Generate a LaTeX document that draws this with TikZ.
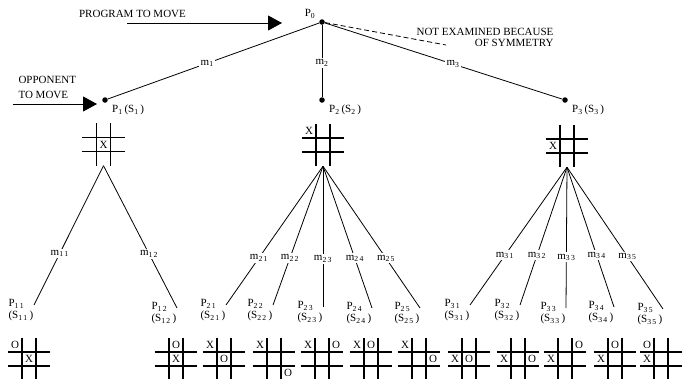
\documentclass[tikz,border=0pt]{standalone}
\usepackage{fontspec}
\setmainfont{Liberation Serif}
\usetikzlibrary{calc,arrows.meta}
\newcommand{\ix}[1]{\textsubscript{#1}}
\newcommand{\board}[2]{\node[board] (#1) at (#2) {};
  \draw[gridline] ([xshift=-7pt]#1.north) -- ([xshift=-7pt]#1.south) ([xshift=7pt]#1.north) -- ([xshift=7pt]#1.south)
    ([yshift=7pt]#1.west) -- ([yshift=7pt]#1.east) ([yshift=-7pt]#1.west) -- ([yshift=-7pt]#1.east);}
\newcommand{\pc}[4]{\node[piece] (#1r#2c#3) at ($(#1)+(#3*14-28,#2*14-28)$) {#4};}
\tikzset{
  pdot/.style={circle,fill=black,inner sep=0pt,minimum size=5.5pt},
  link/.style={line width=0.8pt},
  lab/.style={inner sep=1pt},
  mlab/.style={fill=white,inner sep=1.5pt},
  plab/.style={anchor=north east,align=left,inner sep=0.5pt,font=\fontsize{11}{12}\selectfont},
  board/.style={minimum size=42pt,inner sep=0pt},
  gridline/.style={line width=1.3pt},
  piece/.style={inner sep=0pt,font=\fontsize{11}{11}\selectfont},
  bigarr/.style={line width=0.8pt,-{Triangle[length=14pt,width=15pt]}}
}
\begin{document}
\begin{tikzpicture}[x=1pt,y=-1pt,font=\fontsize{11}{13}\selectfont]
  \useasboundingbox (0,0) rectangle (683,378);
  \node[pdot] (p0) at (322,22) {};
  \node[pdot] (p1) at (105,100) {};
  \node[pdot] (p2) at (322,100) {};
  \node[pdot] (p3) at (565,100) {};
  \node[lab] (p0l) at (310,14) {P\ix{0}};
  \node[lab,anchor=west] (p1l) at (111,110) {P\ix{1}\,(S\ix{1}\,)};
  \node[lab,anchor=west] (p2l) at (328,110) {P\ix{2}\,(S\ix{2}\,)};
  \node[lab,anchor=west] (p3l) at (571,110) {P\ix{3}\,(S\ix{3}\,)};
  \draw[link] (p0) -- node[mlab,pos=.53] (m1) {m\ix{1}} (p1);
  \draw[link] (p0) -- node[mlab,pos=.53] (m2) {m\ix{2}} (p2);
  \draw[link] (p0) -- node[mlab,pos=.54] (m3) {m\ix{3}} (p3);
  \coordinate (ne) at (446,45);
  \draw[link,dash pattern=on 5pt off 3pt] (p0) -- (ne);
  \node[align=right,anchor=north east,font=\fontsize{11}{11}\selectfont] (nex) at (557,25) {NOT EXAMINED BECAUSE\\OF SYMMETRY};
  \node (prog) at (132.5,13.5) {PROGRAM TO MOVE};
  \coordinate (pt0) at (127,23); \coordinate (pt1) at (282,23);
  \draw[bigarr] (pt0) -- (pt1);
  \node[align=left,anchor=north west,font=\fontsize{11}{14.5}\selectfont] (opp) at (15,73) {OPPONENT\\TO MOVE};
  \coordinate (ot0) at (13,104); \coordinate (ot1) at (97,104);
  \draw[bigarr] (ot0) -- (ot1);
  \board{b1}{103.5,144.5} \pc{b1}{2}{2}{X}
  \board{b2}{323,145} \pc{b2}{1}{1}{X}
  \board{b3}{567,146} \pc{b3}{2}{1}{X}
  \coordinate (e11) at (34,305); \coordinate (e12) at (177,308);
  \coordinate (e21) at (226,305); \coordinate (e22) at (273,305); \coordinate (e23) at (323,307);
  \coordinate (e24) at (372,308); \coordinate (e25) at (420,308);
  \coordinate (e31) at (470,305); \coordinate (e32) at (520,305); \coordinate (e33) at (566,308);
  \coordinate (e34) at (614,307); \coordinate (e35) at (663,309);
  \draw[link] (b1.south) -- node[mlab,pos=.63] (m11) {m\ix{1\,1}} (e11);
  \draw[link] (b1.south) -- node[mlab,pos=.62] (m12) {m\ix{1\,2}} (e12);
  \draw[link] (b2.south) -- node[mlab,pos=.66] (m21) {m\ix{2\,1}} (e21);
  \draw[link] (b2.south) -- node[mlab,pos=.66] (m22) {m\ix{2\,2}} (e22);
  \draw[link] (b2.south) -- node[mlab,pos=.66] (m23) {m\ix{2\,3}} (e23);
  \draw[link] (b2.south) -- node[mlab,pos=.65] (m24) {m\ix{2\,4}} (e24);
  \draw[link] (b2.south) -- node[mlab,pos=.65] (m25) {m\ix{2\,5}} (e25);
  \draw[link] (b3.south) -- node[mlab,pos=.64] (m31) {m\ix{3\,1}} (e31);
  \draw[link] (b3.south) -- node[mlab,pos=.64] (m32) {m\ix{3\,2}} (e32);
  \draw[link] (b3.south) -- node[mlab,pos=.64] (m33) {m\ix{3\,3}} (e33);
  \draw[link] (b3.south) -- node[mlab,pos=.63] (m34) {m\ix{3\,4}} (e34);
  \draw[link] (b3.south) -- node[mlab,pos=.63] (m35) {m\ix{3\,5}} (e35);
  \node[plab] (l11) at ([yshift=6pt]e11) {P\ix{1\,1}\\(S\ix{1\,1}\,)};
  \node[plab] (l12) at ([yshift=6pt]e12) {P\ix{1\,2}\\(S\ix{1\,2}\,)};
  \node[plab] (l21) at ([yshift=6pt]e21) {P\ix{2\,1}\\(S\ix{2\,1}\,)};
  \node[plab] (l22) at ([yshift=6pt]e22) {P\ix{2\,2}\\(S\ix{2\,2}\,)};
  \node[plab] (l23) at ([yshift=6pt]e23) {P\ix{2\,3}\\(S\ix{2\,3}\,)};
  \node[plab] (l24) at ([yshift=6pt]e24) {P\ix{2\,4}\\(S\ix{2\,4}\,)};
  \node[plab] (l25) at ([yshift=6pt]e25) {P\ix{2\,5}\\(S\ix{2\,5}\,)};
  \node[plab] (l31) at ([yshift=6pt]e31) {P\ix{3\,1}\\(S\ix{3\,1}\,)};
  \node[plab] (l32) at ([yshift=6pt]e32) {P\ix{3\,2}\\(S\ix{3\,2}\,)};
  \node[plab] (l33) at ([yshift=6pt]e33) {P\ix{3\,3}\\(S\ix{3\,3}\,)};
  \node[plab] (l34) at ([yshift=6pt]e34) {P\ix{3\,4}\\(S\ix{3\,4}\,)};
  \node[plab] (l35) at ([yshift=6pt]e35) {P\ix{3\,5}\\(S\ix{3\,5}\,)};
  \board{b11}{29,359} \pc{b11}{1}{1}{O} \pc{b11}{2}{2}{X}
  \board{b12}{176,359} \pc{b12}{1}{2}{O} \pc{b12}{2}{2}{X}
  \board{b21}{224,359} \pc{b21}{1}{1}{X} \pc{b21}{2}{2}{O}
  \board{b22}{274,359} \pc{b22}{1}{1}{X} \pc{b22}{3}{3}{O}
  \board{b23}{322,359} \pc{b23}{1}{1}{X} \pc{b23}{1}{3}{O}
  \board{b24}{371,359} \pc{b24}{1}{1}{X} \pc{b24}{1}{2}{O}
  \board{b25}{419,359} \pc{b25}{1}{1}{X} \pc{b25}{2}{3}{O}
  \board{b31}{469,359} \pc{b31}{2}{1}{X} \pc{b31}{2}{2}{O}
  \board{b32}{518,359} \pc{b32}{2}{1}{X} \pc{b32}{2}{3}{O}
  \board{b33}{565,359} \pc{b33}{1}{3}{O} \pc{b33}{2}{1}{X}
  \board{b34}{615,359} \pc{b34}{1}{2}{O} \pc{b34}{2}{1}{X}
  \board{b35}{661,359} \pc{b35}{1}{1}{O} \pc{b35}{2}{1}{X}
\end{tikzpicture}
\end{document}
